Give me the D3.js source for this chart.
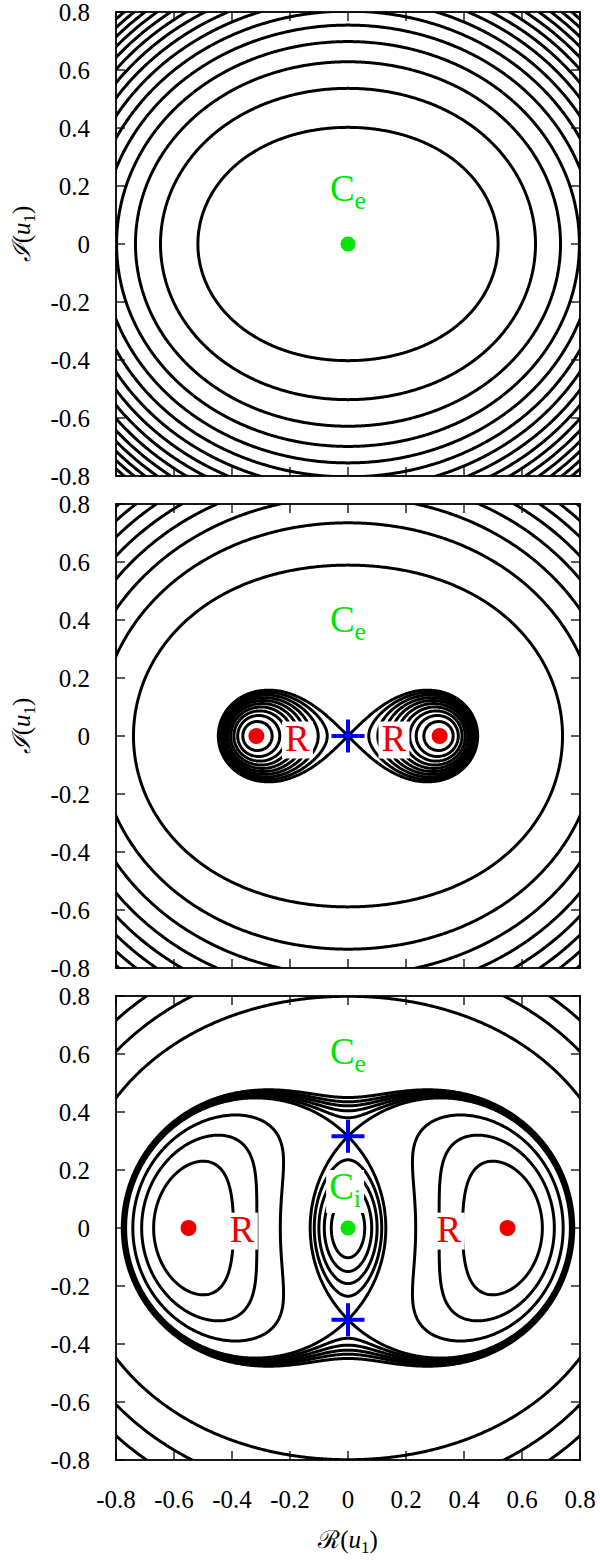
<!DOCTYPE html>
<html><head><meta charset="utf-8">
<script src="https://cdn.jsdelivr.net/npm/d3@7"></script>
<style>body{margin:0;background:#fff}</style>
</head><body>
<svg id="chart" width="600" height="1560" xmlns="http://www.w3.org/2000/svg"></svg>
<script>
// ---------- data ----------
const tickValues = [-0.8, -0.6, -0.4, -0.2, 0, 0.2, 0.4, 0.6, 0.8];
const tickLabels = ["-0.8", "-0.6", "-0.4", "-0.2", "0", "0.2", "0.4", "0.6", "0.8"];

// Hamiltonian parameters per panel: H = |u|^4 + delta |u|^2 + asym (Re^2 - Im^2)
const panelDelta = [0.38, 0.0, -0.4025];
const panelAsym = [-0.2, -0.2, -0.2025];

// contour levels per panel
const levels1 = [0.12, 0.25, 0.385, 0.52, 0.655, 0.79, 0.925, 1.06, 1.195, 1.33, 1.465, 1.6, 1.735, 1.87, 2.005];
const levels2 = [-0.009, -0.008, -0.007, -0.006, -0.005, -0.004, -0.003, -0.002, -0.001, 0.0, 0.19, 0.4, 0.6, 0.8, 1.0, 1.2, 1.4, 1.6];
const levels3 = [-0.07, -0.05, -0.03, -0.01, -0.008, -0.006, -0.004, -0.002, 0.0005, 0.28, 0.56, 0.84];

// markers per panel
const ceLabels = [[0, 0.147], [0, 0.357], [0, 0.566]];
const ciLabels3 = [[-0.01, 0.10]];
const rLabels2 = [[-0.175, -0.05], [0.158, -0.05]];
const rLabels3 = [[-0.365, -0.047], [0.348, -0.047]];
const redDots2 = [[-0.316, 0], [0.316, 0]];
const redDots3 = [[-0.55, 0], [0.55, 0]];
const greenDots1 = [[0, 0]];
const greenDots3 = [[0, 0]];
const saddles2 = [[0, 0]];
const saddles3 = [[0, 0.316], [0, -0.316]];

const xTitle = "ℛ";
const yTitle = "ℐ";

// ---------- layout ----------
const svg = d3.select("#chart");
const left = 116, size = 464;
const panelTops = [12, 504, 996];
const GREEN = "#00e600", RED = "#ee0000", BLUE = "#0000ff";
const FONT = "Times New Roman, Liberation Serif, Times, serif";

const panels = [
  {levels: levels1, ce: [ceLabels[0]], ci: [], r: [], red: [], green: greenDots1, sad: []},
  {levels: levels2, ce: [ceLabels[1]], ci: [], r: rLabels2, red: redDots2, green: [], sad: saddles2},
  {levels: levels3, ce: [ceLabels[2]], ci: ciLabels3, r: rLabels3, red: redDots3, green: greenDots3, sad: saddles3}
];

panels.forEach((p, k) => {
  const top = panelTops[k];
  const x = d3.scaleLinear().domain([-0.8, 0.8]).range([left, left + size]);
  const y = d3.scaleLinear().domain([-0.8, 0.8]).range([top + size, top]);
  const g = svg.append("g");

  const clipId = "clip" + k;
  svg.append("defs").append("clipPath").attr("id", clipId)
    .append("rect").attr("x", left).attr("y", top).attr("width", size).attr("height", size);

  // field sampled on a grid slightly larger than the frame
  const ext = 0.85, n = 400, step = 2 * ext / (n - 1);
  const delta = panelDelta[k], asym = panelAsym[k];
  const values = new Float64Array(n * n);
  for (let j = 0; j < n; j++) {
    const yy = ext - j * step;
    for (let i = 0; i < n; i++) {
      const xx = -ext + i * step;
      const r2 = xx * xx + yy * yy;
      values[j * n + i] = r2 * r2 + delta * r2 + asym * (xx * xx - yy * yy);
    }
  }
  const gx = d3.scaleLinear().domain([0.5, n - 0.5]).range([x(-ext), x(ext)]);
  const gy = d3.scaleLinear().domain([0.5, n - 0.5]).range([y(ext), y(-ext)]);
  const proj = d3.geoTransform({point: function(px, py) { this.stream.point(gx(px), gy(py)); }});
  const path = d3.geoPath(proj);
  const contours = d3.contours().size([n, n]).thresholds(p.levels)(values);

  g.append("g").attr("clip-path", `url(#${clipId})`)
    .selectAll("path").data(contours).join("path")
    .attr("d", path).attr("fill", "none").attr("stroke", "#000")
    .attr("stroke-width", 3).attr("stroke-linejoin", "round");

  // labels with white boxes
  const labG = g.append("g");
  function addLabel(pos, main, sub, color) {
    const t = labG.append("text").attr("x", x(pos[0])).attr("y", y(pos[1]))
      .attr("text-anchor", "middle").style("font-family", FONT).attr("font-size", 37)
      .attr("fill", color);
    t.append("tspan").text(main);
    if (sub) t.append("tspan").attr("font-size", 26).attr("dy", 8).text(sub);
    const bb = t.node().getBBox();
    labG.insert("rect", "text").attr("x", bb.x - 3).attr("y", bb.y + 4)
      .attr("width", bb.width + 6).attr("height", bb.height - 4).attr("fill", "#fff");
  }
  p.ce.forEach(c => addLabel(c, "C", "e", GREEN));
  p.ci.forEach(c => addLabel(c, "C", "i", GREEN));
  p.r.forEach(c => addLabel(c, "R", null, RED));

  g.selectAll("circle.red").data(p.red).join("circle").attr("class", "red")
    .attr("cx", d => x(d[0])).attr("cy", d => y(d[1])).attr("r", 8).attr("fill", RED);
  g.selectAll("circle.green").data(p.green).join("circle").attr("class", "green")
    .attr("cx", d => x(d[0])).attr("cy", d => y(d[1])).attr("r", 7.5).attr("fill", GREEN);
  p.sad.forEach(d => {
    const cx = x(d[0]), cy = y(d[1]);
    g.append("path").attr("d", `M${cx - 16.5},${cy}H${cx + 16.5}M${cx},${cy - 16.5}V${cy + 16.5}`)
      .attr("stroke", BLUE).attr("stroke-width", 4).attr("fill", "none");
  });

  // frame and ticks
  const tl = 9;
  const ax = g.append("g").attr("stroke", "#000").attr("stroke-width", 1.3);
  tickValues.forEach(v => {
    ax.append("line").attr("x1", x(v)).attr("x2", x(v)).attr("y1", top + size).attr("y2", top + size - tl);
    ax.append("line").attr("x1", x(v)).attr("x2", x(v)).attr("y1", top).attr("y2", top + tl);
    ax.append("line").attr("y1", y(v)).attr("y2", y(v)).attr("x1", left).attr("x2", left + tl);
    ax.append("line").attr("y1", y(v)).attr("y2", y(v)).attr("x1", left + size).attr("x2", left + size - tl);
  });
  g.append("rect").attr("x", left).attr("y", top).attr("width", size).attr("height", size)
    .attr("fill", "none").attr("stroke", "#000").attr("stroke-width", 1.8);

  // y tick labels
  g.selectAll("text.yt").data(tickValues).join("text").attr("class", "yt")
    .attr("x", 90).attr("y", d => y(d)).attr("dy", "0.34em")
    .attr("text-anchor", "end").style("font-family", FONT).attr("font-size", 25)
    .text((d, i) => tickLabels[i]);

  if (k < 2) {
    const ty = svg.append("text").attr("transform", `translate(30,${top + size / 2 - 10}) rotate(-90)`)
      .attr("text-anchor", "middle").style("font-family", FONT).attr("font-size", 25);
    ty.append("tspan").attr("font-style", "italic").text(yTitle);
    ty.append("tspan").text("(");
    ty.append("tspan").attr("font-style", "italic").text("u");
    ty.append("tspan").attr("font-size", 17).attr("dy", 5).text("1");
    ty.append("tspan").attr("dy", -5).text(")");
  }
  if (k === 2) {
    g.selectAll("text.xt").data(tickValues).join("text").attr("class", "xt")
      .attr("x", d => x(d)).attr("y", top + size + 48)
      .attr("text-anchor", "middle").style("font-family", FONT).attr("font-size", 25)
      .text((d, i) => tickLabels[i]);
    const tx = svg.append("text").attr("x", x(0)).attr("y", top + size + 88)
      .attr("text-anchor", "middle").style("font-family", FONT).attr("font-size", 25);
    tx.append("tspan").text(xTitle);
    tx.append("tspan").text("(");
    tx.append("tspan").attr("font-style", "italic").text("u");
    tx.append("tspan").attr("font-size", 17).attr("dy", 5).text("1");
    tx.append("tspan").attr("dy", -5).text(")");
  }
});
</script>
</body></html>
